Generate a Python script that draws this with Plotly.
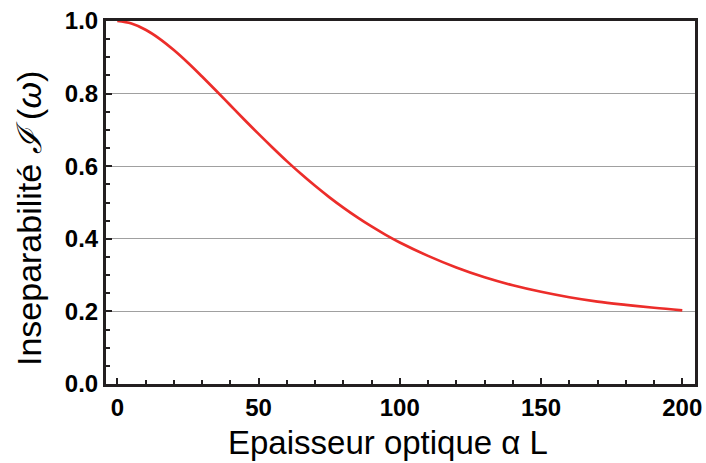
import plotly.graph_objects as go

# optical thickness alpha*L and inseparability
alpha_L = [0, 5, 10, 15, 20, 25, 30, 35, 40, 45, 50, 55, 60, 65, 70, 75, 80,
           85, 90, 95, 100, 110, 120, 130, 140, 150, 160, 170, 180, 190, 200]
insep = [1.000, 0.993, 0.976, 0.951, 0.920, 0.885, 0.847, 0.808, 0.768, 0.728,
         0.689, 0.651, 0.614, 0.579, 0.546, 0.515, 0.486, 0.459, 0.434, 0.411,
         0.390, 0.353, 0.321, 0.294, 0.272, 0.254, 0.239, 0.227, 0.218, 0.210,
         0.203]

x_ticks = [0, 50, 100, 150, 200]
x_grid = [50, 100, 150]
y_ticks = [0.0, 0.2, 0.4, 0.6, 0.8, 1.0]
y_labels = ["0.0", "0.2", "0.4", "0.6", "0.8", "1.0"]

frame = "#231f20"
tickfont = dict(family="Liberation Sans", size=24, color="black", weight="bold")

fig = go.Figure()
fig.add_trace(go.Scatter(x=alpha_L, y=insep, mode="lines",
                         line=dict(color="#ec2d2a", width=2.7, shape="spline",
                                   smoothing=1),
                         showlegend=False))

fig.update_layout(
    width=706, height=463,
    margin=dict(l=106, r=11, t=21, b=79, autoexpand=False),
    plot_bgcolor="white", paper_bgcolor="white",
    font=dict(family="Liberation Sans", color="black"),
    xaxis=dict(range=[-4, 204.5], tickvals=x_ticks, showgrid=False,
               automargin=False,
               zeroline=False, showline=True, linecolor=frame, linewidth=3,
               mirror=True, ticks="inside", ticklen=6, tickwidth=2,
               tickcolor=frame, tickfont=tickfont, ticklabeloverflow="allow",
               minor=dict(dtick=10, ticks="inside", ticklen=4, tickwidth=2,
                          tickcolor=frame, showgrid=False)),
    xaxis2=dict(overlaying="x", matches="x", range=[-4, 204.5],
                automargin=False,
                tickvals=x_grid, showgrid=True, gridcolor="#a0a0a0",
                gridwidth=1, showticklabels=False, ticks="", zeroline=False,
                showline=False),
    yaxis=dict(range=[0, 1.0], tickvals=y_ticks, ticktext=y_labels,
               automargin=False,
               showgrid=True, gridcolor="#a0a0a0", gridwidth=1,
               zeroline=False, showline=True, linecolor=frame, linewidth=3,
               mirror=True, ticks="inside", ticklen=6, tickwidth=2,
               tickcolor=frame, tickfont=tickfont, ticklabeloverflow="allow",
               minor=dict(dtick=0.05, ticks="inside", ticklen=4, tickwidth=2,
                          tickcolor=frame, showgrid=False)),
    annotations=[
        dict(text="Epaisseur optique \u03b1 L", xref="paper", yref="paper",
             x=0.478, y=-0.1625, xanchor="center", yanchor="middle",
             showarrow=False, font=dict(size=33)),
        dict(text="Inseparabilit\u00e9 <i>\u2110</i> (<i>\u03c9</i>)",
             xref="paper", yref="paper", x=-0.1307, y=0.4545,
             xanchor="center", yanchor="middle", textangle=-90,
             showarrow=False, font=dict(size=34)),
    ],
)

# drop the browser's default body margin so the figure sits at the page corner
fig.write_html("out.html", config={"displayModeBar": False},
               post_script="document.body.style.margin='0';"
                           "document.body.style.overflow='hidden';")
